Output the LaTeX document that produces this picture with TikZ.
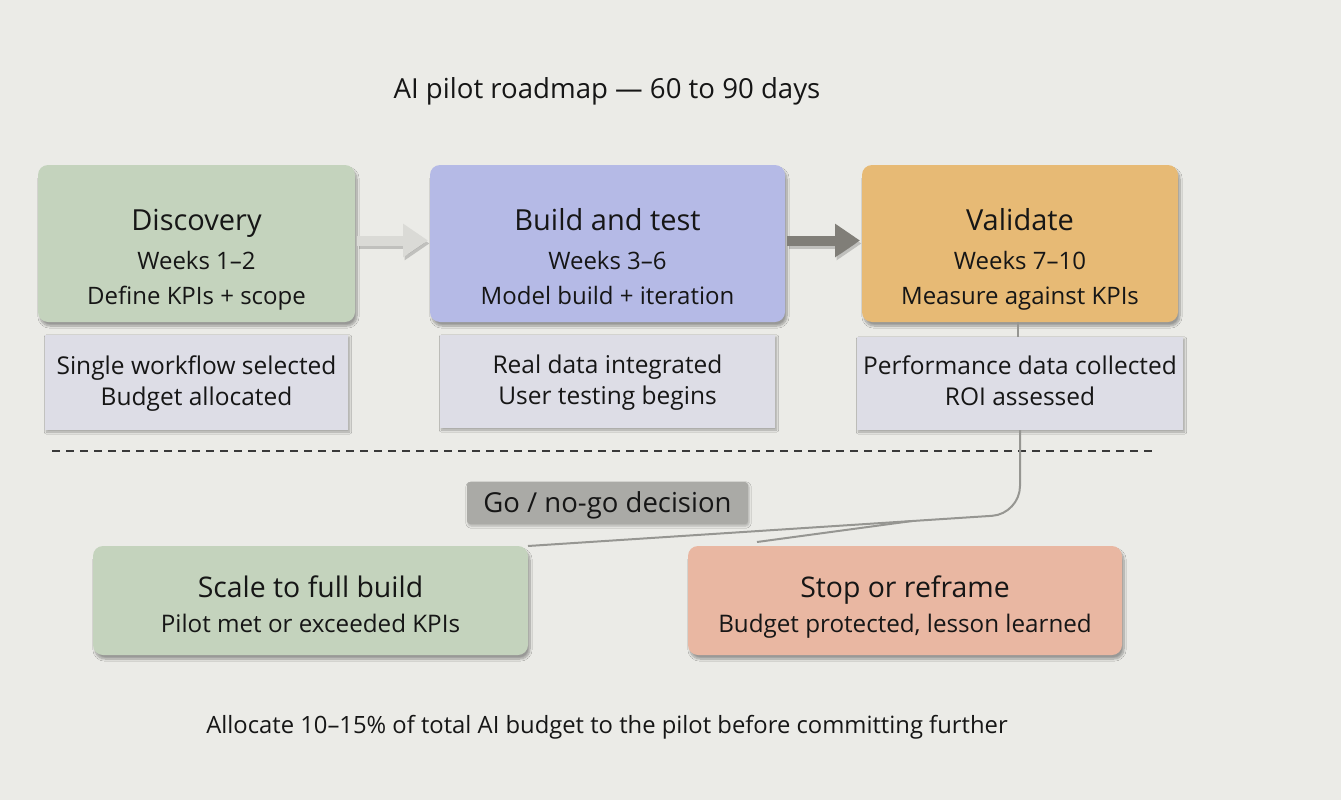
\documentclass[tikz,border=0pt]{standalone}
\usepackage{fontspec}
\setmainfont{Open Sans}
\usetikzlibrary{calc,arrows.meta,shadows.blur}
\definecolor{bg}{RGB}{235,235,231}
\definecolor{greenbox}{RGB}{196,211,189}
\definecolor{bluebox}{RGB}{181,186,230}
\definecolor{orangebox}{RGB}{231,186,117}
\definecolor{salmonbox}{RGB}{233,183,162}
\definecolor{notebox}{RGB}{221,221,230}
\definecolor{gobox}{RGB}{170,170,166}
\definecolor{ink}{RGB}{22,22,22}
\definecolor{arrowlight}{RGB}{218,218,214}
\definecolor{arrowdark}{RGB}{128,126,120}
\definecolor{wire}{RGB}{150,150,146}
\tikzset{
  x=1pt,y=-1pt,
  every node/.style={text=ink,inner sep=0pt,outer sep=0pt},
  stagebox/.style={rounded corners=10pt,draw=none,
    blur shadow={shadow xshift=2pt,shadow yshift=-4pt,shadow opacity=35,shadow blur steps=10}},
  notebx/.style={fill=notebox,draw=none,
    blur shadow={shadow xshift=1.5pt,shadow yshift=-2pt,shadow opacity=30,shadow blur steps=6}},
  txt/.style={anchor=mid,yshift=-7pt},
  stitle/.style={txt,font=\fontsize{29}{32}\selectfont},
  sline/.style={txt,font=\fontsize{24}{28}\selectfont},
  nline/.style={txt,font=\fontsize{24.5}{28}\selectfont},
  blockarrow/.style={line width=10pt,-{Triangle[width=32pt,length=25pt]},shorten >=2pt},
  arrowshadow/.style={blockarrow,draw=black,fill=black,opacity=0.18},
  conn/.style={draw=wire,line width=2pt},
}
\begin{document}
\begin{tikzpicture}
\fill[bg] (0,0) rectangle (1341,800);
\useasboundingbox (0,0) rectangle (1341,800);

\node[txt,font=\fontsize{27.6}{30}\selectfont] (title) at (607,89) {AI pilot roadmap — 60 to 90 days};

% stage boxes
\node[stagebox,fill=greenbox,minimum width=317pt,minimum height=157pt] (disc) at (196.5,243.5) {};
\node[stagebox,fill=bluebox,minimum width=355pt,minimum height=157pt] (build) at (607.5,243.5) {};
\node[stagebox,fill=orangebox,minimum width=316pt,minimum height=157pt] (val) at (1020,243.5) {};

\node[stitle] (disc1) at ($(disc.north)+(0,56)$) {Discovery};
\node[sline]  (disc2) at ($(disc.north)+(0,95)$) {Weeks 1–2};
\node[sline]  (disc3) at ($(disc.north)+(0,130)$) {Define KPIs + scope};
\node[stitle] (build1) at ($(build.north)+(0,56)$) {Build and test};
\node[sline]  (build2) at ($(build.north)+(0,95)$) {Weeks 3–6};
\node[sline]  (build3) at ($(build.north)+(0,130)$) {Model build + iteration};
\node[stitle] (val1) at ($(val.north)+(0,56)$) {Validate};
\node[sline]  (val2) at ($(val.north)+(0,95)$) {Weeks 7–10};
\node[sline]  (val3) at ($(val.north)+(0,130)$) {Measure against KPIs};

% arrows
\draw[arrowshadow] ($(disc.east)+(3.5,0)$) -- ($(build.west)+(1.5,0)$);
\draw[blockarrow,draw=arrowlight,fill=arrowlight] ($(disc.east)+(2,-3)$) -- ($(build.west)+(0,-3)$);
\draw[arrowshadow] ($(build.east)+(3.5,0)$) -- ($(val.west)+(1.5,0)$);
\draw[blockarrow,draw=arrowdark,fill=arrowdark] ($(build.east)+(2,-3)$) -- ($(val.west)+(0,-3)$);

% notes
\node[notebx,minimum width=303pt,minimum height=95pt] (discn) at (196.5,382.5) {};
\node[notebx,minimum width=335pt,minimum height=93pt] (buildn) at (607.5,381.5) {};
\node[notebx,minimum width=326pt,minimum height=93pt] (valn) at (1020,383.5) {};
\node[nline] (discn1) at (discn.center |- 0,365) {Single workflow selected};
\node[nline] (discn2) at (discn.center |- 0,396) {Budget allocated};
\node[nline] (buildn1) at (buildn.center |- 0,364) {Real data integrated};
\node[nline] (buildn2) at (buildn.center |- 0,395) {User testing begins};
\node[nline] (valn1) at (valn.center |- 0,365) {Performance data collected};
\node[nline] (valn2) at (valn.center |- 0,396) {ROI assessed};

% dashed divider
\coordinate (dl) at (52,451);
\coordinate (dr) at (1155,451);
\draw[draw=ink!85,line width=1.3pt,dash pattern=on 8pt off 6pt] (dl) -- (dr);

% decision
\node[fill=gobox,minimum width=281pt,minimum height=42pt,rounded corners=3pt,
  blur shadow={shadow xshift=1pt,shadow yshift=-2pt,shadow opacity=25,shadow blur steps=5}] (go) at (607.5,503) {};
\node[txt,font=\fontsize{27.5}{30}\selectfont] (got) at (go.center) {Go / no-go decision};

% outcome boxes
\node[stagebox,fill=greenbox,minimum width=435pt,minimum height=109pt] (scale) at (310.5,600.5) {};
\node[stagebox,fill=salmonbox,minimum width=434pt,minimum height=109pt] (stop) at (905,600.5) {};
\node[txt,font=\fontsize{28.4}{30}\selectfont] (scale1) at (scale.center |- 0,588) {Scale to full build};
\node[txt,font=\fontsize{24.2}{28}\selectfont] (scale2) at (scale.center |- 0,623) {Pilot met or exceeded KPIs};
\node[txt,font=\fontsize{28.4}{30}\selectfont] (stop1) at (stop.center |- 0,588) {Stop or reframe};
\node[txt,font=\fontsize{24.2}{28}\selectfont] (stop2) at (stop.center |- 0,623) {Budget protected, lesson learned};

% connectors
\draw[conn] (val.south -| 1018,0) -- (valn.north -| 1018,0);
\coordinate (bend) at (1020,514);
\coordinate (stopend) at (757,542);
\draw[conn,rounded corners=28pt] (valn.south -| bend) -- (bend) -- (scale.north east);
\coordinate (split) at ($(bend)!0.22!(scale.north east)$);
\draw[conn] (split) -- (stopend);

\node[txt,font=\fontsize{23.8}{26}\selectfont] (foot) at (607,724) {Allocate 10–15\% of total AI budget to the pilot before committing further};
\end{tikzpicture}
\end{document}
